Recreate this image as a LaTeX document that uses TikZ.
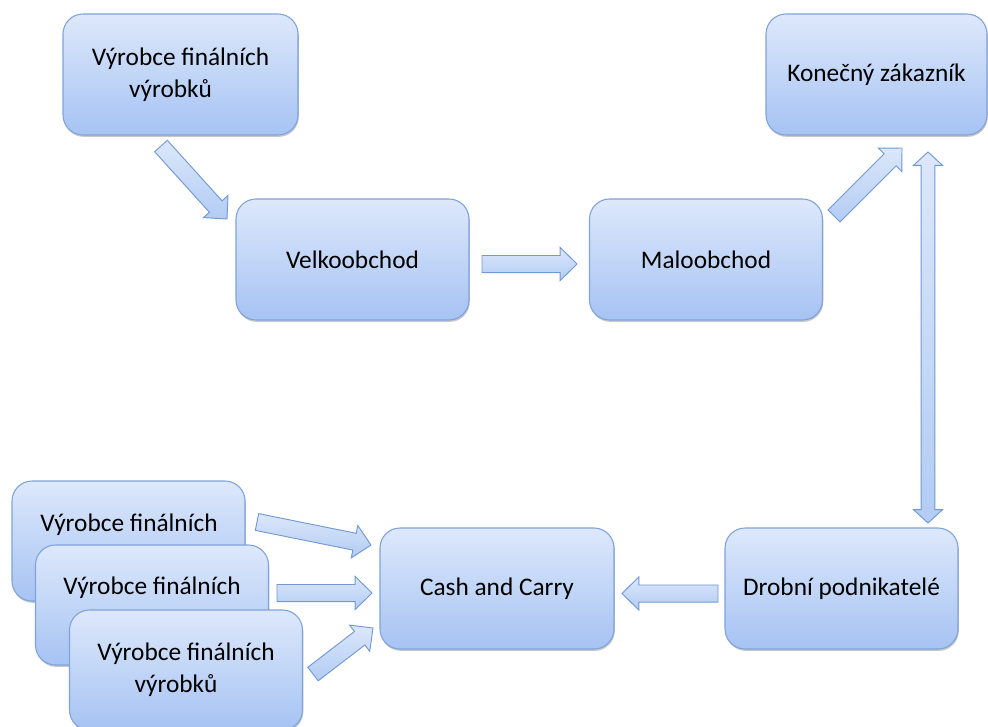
\documentclass[tikz,border=0pt]{standalone}
\usepackage{fontspec}
\setmainfont{Carlito}
\usetikzlibrary{calc,shadows}

\definecolor{boxtop}{HTML}{DDE8FB}
\definecolor{boxbot}{HTML}{A6C3F3}
\definecolor{boxline}{HTML}{7FA3DA}
\definecolor{arrtop}{HTML}{DCE7FA}
\definecolor{arrbot}{HTML}{B2CCF4}
\definecolor{arrline}{HTML}{7199D4}

% shaft half width, head half width, head length
\def\shw{6.4pt}
\def\hhw{12.4pt}
\def\hl{12.6pt}

% single block arrow from #1 to #2
\newcommand{\sarrow}[2]{%
  \path[barrow] ($(#1)!\shw!90:(#2)$)
    -- ($(#2)!\hl!(#1)!\shw!-90:(#1)$)
    -- ($(#2)!\hl!(#1)!\hhw!-90:(#1)$)
    -- (#2)
    -- ($(#2)!\hl!(#1)!\hhw!90:(#1)$)
    -- ($(#2)!\hl!(#1)!\shw!90:(#1)$)
    -- ($(#1)!\shw!-90:(#2)$) -- cycle;}

% double block arrow between #1 and #2
\newcommand{\darrow}[2]{%
  \path[barrow] (#1)
    -- ($(#1)!\hl!(#2)!\hhw!90:(#2)$)
    -- ($(#1)!\hl!(#2)!\shw!90:(#2)$)
    -- ($(#2)!\hl!(#1)!\shw!-90:(#1)$)
    -- ($(#2)!\hl!(#1)!\hhw!-90:(#1)$)
    -- (#2)
    -- ($(#2)!\hl!(#1)!\hhw!90:(#1)$)
    -- ($(#2)!\hl!(#1)!\shw!90:(#1)$)
    -- ($(#1)!\hl!(#2)!\shw!-90:(#2)$)
    -- ($(#1)!\hl!(#2)!\hhw!-90:(#2)$) -- cycle;}

\tikzset{
  box/.style={draw=boxline, line width=0.8pt, rounded corners=15pt,
    top color=boxtop, bottom color=boxbot,
    minimum width=174.75pt, minimum height=90.75pt, inner sep=0pt,
    align=center, font=\fontsize{19pt}{24pt}\selectfont,
    drop shadow={shadow xshift=0.6pt, shadow yshift=-1.4pt, opacity=0.22, fill=black}},
  boxtext/.style={inner sep=0pt, align=center, font=\fontsize{19pt}{24pt}\selectfont},
  barrow/.style={draw=arrline, line width=0.7pt, line join=miter,
    top color=arrtop, bottom color=arrbot}
}

\begin{document}
\begin{tikzpicture}[x=0.75pt, y=-0.75pt]
\clip (0,0) rectangle (988,726);
\fill[white] (0,0) rectangle (988,726);

% upper chain
\node[box, minimum width=176.25pt] (vyr) at (180.5,74.5) {Výrobce finálních\\výrobků\hspace*{15pt}};
\node[box] (velk) at (352.5,259.5) {Velkoobchod};
\node[box] (malo) at (706,259.5) {Maloobchod};
\node[box, minimum width=165.75pt] (konz) at (876.5,74.5) {Konečný zákazník};

% lower chain
\node[box] (drob) at (841.5,588.5) {Drobní podnikatelé};
\node[box, minimum width=175.5pt] (cash) at (497,588.5) {Cash and Carry};

% stacked producers
\node[box, minimum height=90pt] (pa) at (128.5,541) {};
\node[boxtext] at (129,525) {Výrobce finálních};
\node[box, minimum height=90pt] (pb) at (152,605) {};
\node[boxtext] at (152,588) {Výrobce finálních};
\node[box, minimum height=90pt] (pc) at (186,670) {Výrobce finálních\\výrobků\hspace*{15pt}};

% arrow end points
\coordinate (a1s) at (161,146);   \coordinate (a1e) at (227,219);
\coordinate (a2s) at (482,264);   \coordinate (a2e) at (577,264);
\coordinate (a3s) at (834,216);   \coordinate (a3e) at (902,148);
\coordinate (a4s) at (928,152);   \coordinate (a4e) at (928,523);
\coordinate (a5s) at (718,593.5); \coordinate (a5e) at (622,593.5);
\coordinate (b1s) at (257,522);   \coordinate (b1e) at (371,545);
\coordinate (b2s) at (277,593);   \coordinate (b2e) at (372,593);
\coordinate (b3s) at (313,674);   \coordinate (b3e) at (373,628);

\sarrow{a1s}{a1e}
\sarrow{a2s}{a2e}
\sarrow{a3s}{a3e}
{\def\shw{5.1pt}\def\hhw{10.9pt}\def\hl{10pt}\darrow{a4s}{a4e}}
\sarrow{a5s}{a5e}
\sarrow{b1s}{b1e}
\sarrow{b2s}{b2e}
\sarrow{b3s}{b3e}
\end{tikzpicture}
\end{document}
